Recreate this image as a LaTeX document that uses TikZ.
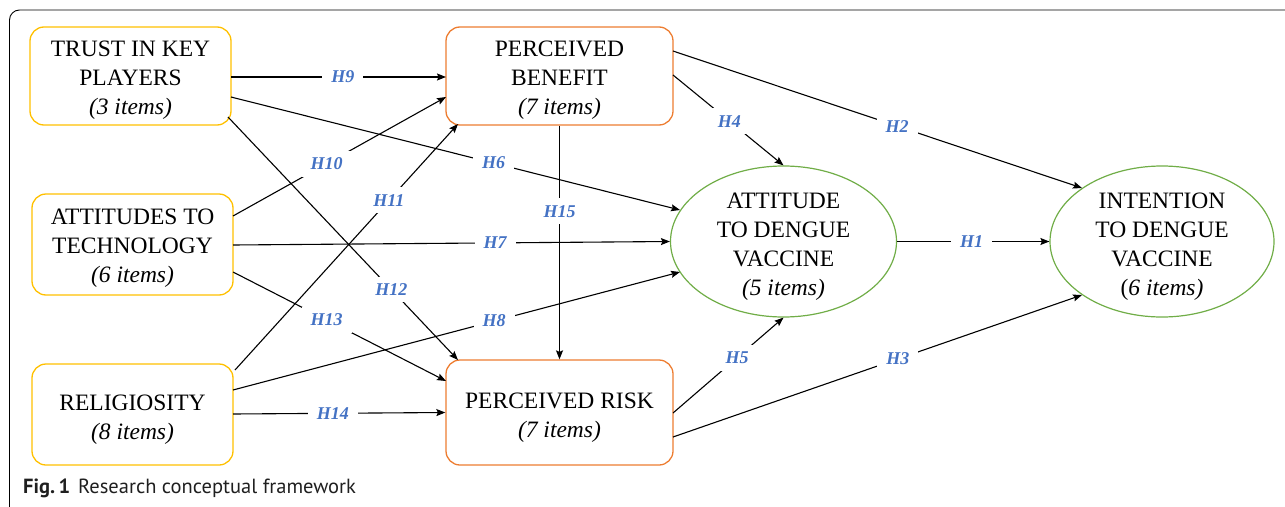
\documentclass[tikz,border=0pt]{standalone}
\usepackage{fontspec}
\setmainfont{Liberation Serif}
\newfontfamily\capfont{PT Sans}
\usetikzlibrary{calc,arrows.meta,shapes.geometric}
\definecolor{ybox}{HTML}{FFC000}
\definecolor{obox}{HTML}{ED7D31}
\definecolor{gell}{HTML}{70AD47}
\definecolor{hblue}{HTML}{4472C4}
\begin{document}
\begin{tikzpicture}[x=1pt,y=-1pt,
  box/.style={draw, rounded corners=14pt, line width=1.3pt, inner sep=0pt},
  ybx/.style={box, draw=ybox, minimum width=201pt},
  obx/.style={box, draw=obox, minimum width=227pt},
  ell/.style={ellipse, draw=gell, line width=1.2pt, minimum width=226pt, minimum height=151pt, inner sep=0pt},
  txt/.style={align=center, inner sep=0pt, font=\fontsize{23.5}{29}\selectfont},
  lbl/.style={fill=white, text=hblue, font=\fontsize{18}{20}\selectfont\bfseries\itshape, inner xsep=9pt, inner ysep=7pt},
  arr/.style={-{Stealth[length=9pt,width=7pt,inset=1.5pt]}, line width=1.1pt},
  capt/.style={anchor=base west, inner sep=0pt, text=black!88, font=\capfont\fontsize{20.5}{24}\selectfont}
]
\useasboundingbox (0,0) rectangle (1285,506);
\begin{scope}
  \clip (0,0) rectangle (1285,506);
  \draw[line width=0.9pt, rounded corners=10pt] (9.5,10) rectangle (1320,530);
\end{scope}

% shapes
\node[ybx, minimum height=98pt] (trust) at (130.5,76) {};
\node[ybx, minimum height=101pt] (tech) at (132.5,244.5) {};
\node[ybx, minimum height=101pt] (rel) at (132.5,414.5) {};
\node[obx, minimum height=98pt] (pb) at (559.5,76) {};
\node[obx, minimum height=105pt] (pr) at (559.5,412.5) {};
\node[ell] (att) at (783.5,241.5) {};
\node[ell, minimum width=224pt] (int) at (1162,241.5) {};

% texts
\node[txt] (trustt) at (130.5,80) {TRUST IN KEY\\PLAYERS\\\textit{(3 items)}};
\node[txt] (techt) at (132.5,248) {ATTITUDES TO\\TECHNOLOGY\\\textit{(6 items)}};
\node[txt] (relt) at (132.5,419.5) {RELIGIOSITY\\\textit{(8 items)}};
\node[txt] (pbt) at (559.5,80) {PERCEIVED\\BENEFIT\\\textit{(7 items)}};
\node[txt] (prt) at (559.5,417.5) {PERCEIVED RISK\\\textit{(7 items)}};
\node[txt] (attt) at (783.5,246.5) {ATTITUDE\\TO DENGUE\\VACCINE\\\textit{(5 items)}};
\node[txt] (intt) at (1162,246.5) {INTENTION\\TO DENGUE\\VACCINE\\(\textit{6 items)}};

% connectors
\draw[arr] ($(trust.center)+(100.5,1)$) -- node[lbl,pos=.52]{H9} ($(pb.center)+(-113.5,1)$);
\draw[arr] ($(tech.center)+(100.5,-28.5)$) -- node[lbl,pos=.44]{H10} ($(pb.center)+(-113.5,21)$);
\draw[arr] ($(rel.center)+(102.5,-44.5)$) -- node[lbl,pos=.69]{H11} ($(pb.center)+(-101.5,48)$);
\draw[arr] ($(trust.center)+(100.5,21)$) -- node[lbl,pos=.585]{H6} ($(att.center)+(-103.5,-31.5)$);
\draw[arr] ($(trust.center)+(97.5,41)$) -- node[lbl,pos=.71]{H12} ($(pr.center)+(-101.5,-52.5)$);
\draw[arr] ($(tech.center)+(100.5,0.5)$) -- node[lbl,pos=.6]{H7} (att.west);
\draw[arr] ($(tech.center)+(100.5,27.5)$) -- node[lbl,pos=.44]{H13} ($(pr.center)+(-113.5,-31.5)$);
\draw[arr] ($(rel.center)+(100.5,-24.5)$) -- node[lbl,pos=.584]{H8} ($(att.center)+(-103.5,30.5)$);
\draw[arr] ($(rel.center)+(100.5,-0.5)$) -- node[lbl,pos=.47]{H14} (pr.west);
\draw[arr] (pb.south) -- node[lbl,pos=.366]{H15} (pr.north);
\draw[arr] ($(pb.center)+(113.5,-1)$) -- node[lbl,pos=.51]{H4} (att.north);
\draw[arr] ($(pb.center)+(113.5,-25)$) -- node[lbl,pos=.548]{H2} ($(int.center)+(-80,-53.5)$);
\draw[arr] (att.east) -- node[lbl,pos=.49]{H1} (int.west);
\draw[arr] ($(pr.center)+(113.5,0.5)$) -- node[lbl,pos=.58]{H5} (att.south);
\draw[arr] ($(pr.center)+(113.5,24.5)$) -- node[lbl,pos=.55]{H3} ($(int.center)+(-80,53.5)$);

% caption
\node[capt] (cap) at (23,493) {\textbf{Fig.\,1}\hspace{8pt}Research conceptual framework};
\end{tikzpicture}
\end{document}
